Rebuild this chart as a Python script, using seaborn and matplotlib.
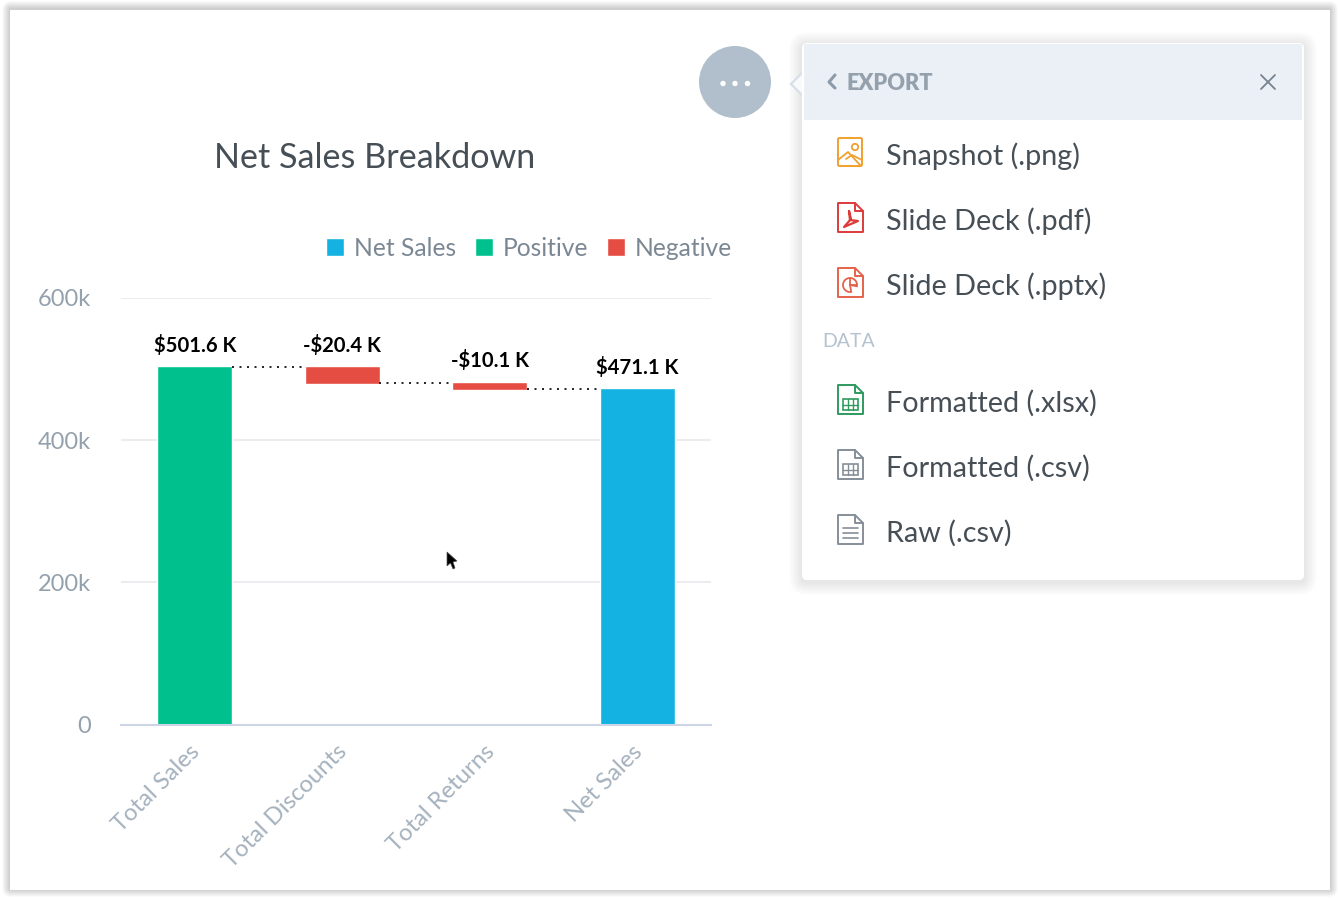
import pandas as pd
import matplotlib
matplotlib.use("Agg")
import matplotlib.pyplot as plt
import seaborn as sns
from matplotlib.patches import FancyBboxPatch, Rectangle, Circle, Polygon, Wedge
from matplotlib.transforms import ScaledTranslation

categorias = ['Total Sales', 'Total Discounts', 'Total Returns', 'Net Sales']
topos = [504.0, 504.0, 482.0, 473.5]
bases = [0, 479.0, 470.5, 0]
niveis_conector = [503.0, 480.5, 472.5]
tipos = ['Positive', 'Negative', 'Negative', 'Net Sales']
rotulos = ['$501.6 K', '-$20.4 K', '-$10.1 K', '$471.1 K']
ordem_legenda = ['Net Sales', 'Positive', 'Negative']
cores = {'Net Sales': '#14b2e2', 'Positive': '#00c18d', 'Negative': '#e54d42'}
ticks_y = [0, 200, 400, 600]
labels_y = ['0', '200k', '400k', '600k']

itens_png = ['Snapshot (.png)', 'Slide Deck (.pdf)', 'Slide Deck (.pptx)']
itens_dados = ['Formatted (.xlsx)', 'Formatted (.csv)', 'Raw (.csv)']

COR_TEXTO = '#464e56'
COR_EIXO = '#94a1ad'
W, H = 1340, 900

sns.set_style("white")
plt.rcParams['font.family'] = ['Lato', 'DejaVu Sans']

fig = plt.figure(figsize=(W / 100, H / 100), dpi=100, facecolor='white')

# camada de fundo em pixels (janela, menu, ícones)
bg = fig.add_axes([0, 0, 1, 1], zorder=0)
bg.set_xlim(0, W)
bg.set_ylim(H, 0)
bg.axis('off')


def sombra(a, x, y, w, h, r, n=8, passo=1.5, alfa=0.018, dy=1):
    for i in range(n, 0, -1):
        e = i * passo
        a.add_patch(FancyBboxPatch((x - e, y - e + dy), w + 2 * e, h + 2 * e,
                                   boxstyle=f'round,pad=0,rounding_size={r + e}',
                                   fc='black', ec='none', alpha=alfa))


# janela
sombra(bg, 10, 10, 1320, 880, 1, n=7, passo=1.1, alfa=0.028, dy=-1)
bg.add_patch(Rectangle((10, 10), 1320, 880, fc='white', ec='none'))

# gráfico
ax = fig.add_axes([121 / W, 1 - 724.5 / H, 590 / W, 426.5 / H], zorder=1)
ax.patch.set_alpha(0)

alturas = [t - b for t, b in zip(topos, bases)]
dados = pd.DataFrame({'categoria': categorias, 'altura': alturas, 'tipo': tipos})

sns.barplot(data=dados, x='categoria', y='altura', hue='tipo', hue_order=ordem_legenda,
            palette=cores, order=categorias, width=0.506, dodge=False, saturation=1, ax=ax)

# barras flutuantes: desloca a base de cada barra
for p in ax.patches:
    idx = int(round(p.get_x() + p.get_width() / 2))
    p.set_y(bases[idx])

ax.set_xlim(-0.5, 3.5)
ax.set_ylim(0, 600)
ax.set_xlabel('')
ax.set_ylabel('')
ax.set_yticks(ticks_y, labels_y)
ax.set_xticks(range(4), categorias)
ax.grid(axis='y', color='#e6e9ee', lw=1.2)
ax.set_axisbelow(True)
sns.despine(ax=ax, left=True, top=True, right=True)
ax.spines['bottom'].set_color('#ccd4e6')
ax.spines['bottom'].set_linewidth(1.5)
ax.tick_params(axis='y', length=0, pad=21.5, labelsize=17, labelcolor=COR_EIXO)
ax.tick_params(axis='x', length=0, pad=12, labelsize=17.2, labelcolor='#a5b2be')
desloca = ScaledTranslation(-6 / 100, 0, fig.dpi_scale_trans)
for t in ax.get_xticklabels():
    t.set_rotation(45)
    t.set_ha('right')
    t.set_rotation_mode('anchor')
    t.set_transform(t.get_transform() + desloca)

# conectores pontilhados
for i, nivel in enumerate(niveis_conector):
    ax.plot([i + 0.25, i + 0.75], [nivel, nivel], color='#2a2a2a', lw=1.44,
            dashes=(1, 2.75), zorder=1)

# rótulos
for i, (topo, r) in enumerate(zip(topos, rotulos)):
    ax.annotate(r, (i, topo), xytext=(0, 7.5), textcoords='offset points', ha='center', va='bottom',
                fontsize=14.6, fontweight='bold', color='black')

sns.move_legend(ax, 'lower right', bbox_to_anchor=(1.0355, 1.09), ncol=3, frameon=False, title=None,
                fontsize=17.7, handlelength=0.73, handleheight=0.73, handletextpad=0.41,
                columnspacing=0.75, labelcolor='#7b8894', borderpad=0, borderaxespad=0)

fig.text(375 / W, 1 - 157.5 / H, 'Net Sales Breakdown', fontsize=24.6, color=COR_TEXTO,
         ha='center', va='center')

# cursor
bg.add_patch(Polygon([(447, 552), (447, 566), (450.5, 563), (453, 569), (455, 568), (453, 562), (457, 561)],
                     fc='black', ec='#555555', lw=0.5, zorder=5))

# camada do menu
fg = fig.add_axes([0, 0, 1, 1], zorder=2)
fg.set_xlim(0, W)
fg.set_ylim(H, 0)
fg.axis('off')
fg.patch.set_alpha(0)

# botão redondo
fg.add_patch(Circle((735, 82), 36, fc='#b0bfcb', ec='none'))
for x in (723, 735, 747.5):
    fg.add_patch(Circle((x, 83.5), 2.7, fc='white', ec='none'))

# painel
sombra(fg, 802, 43, 502, 537, 5, n=8, passo=1.6, alfa=0.010, dy=2)
fg.add_patch(Polygon([(806, 69), (791, 84), (806, 99)], fc='#f8f9fb', ec='#d8dfe7', lw=1.6, joinstyle='miter'))
fg.add_patch(FancyBboxPatch((802, 43), 502, 537, boxstyle='round,pad=0,rounding_size=5', fc='white', ec='none'))
fg.add_patch(Rectangle((804, 44), 498, 76, fc='#ebeff6', ec='none'))
fg.plot([835, 829, 835], [75, 82, 88], color='#8d9aa7', lw=2.2, solid_capstyle='round')
fg.text(847, 84, 'EXPORT', fontsize=15.7, fontweight='heavy', color='#94a1ad', va='center')
fg.plot([1261, 1275], [75, 89], color='#77838f', lw=1.3)
fg.plot([1261, 1275], [89, 75], color='#77838f', lw=1.3)


def folha(x, y, cor, w=25, h=30):
    # folha com canto dobrado
    pts = [(x, y + 1), (x + w - 8, y + 1), (x + w, y + 9), (x + w, y + h), (x, y + h)]
    fg.add_patch(Polygon(pts, closed=True, fc='white', ec=cor, lw=1.4, joinstyle='round'))
    fg.plot([x + w - 8, x + w - 8, x + w], [y + 1, y + 9, y + 9], color=cor, lw=1.4)


def grade(x, y, cor):
    fg.add_patch(Rectangle((x, y), 15, 11, fc='none', ec=cor, lw=1.2))
    for dx in (5, 10):
        fg.plot([x + dx, x + dx], [y, y + 11], color=cor, lw=1)
    fg.plot([x, x + 15], [y + 5.5, y + 5.5], color=cor, lw=1)


# ícone imagem
cor = '#f0a030'
fg.add_patch(FancyBboxPatch((838, 138), 24, 28, boxstyle='round,pad=0,rounding_size=1.5', fc='white', ec=cor, lw=1.4))
fg.add_patch(Circle((855, 147), 3.2, fc='white', ec=cor, lw=1.3))
fg.plot([838, 848, 861], [160, 152, 166], color=cor, lw=1.3)
fg.plot([846, 852, 862], [159, 155, 160], color=cor, lw=1.3)

# ícone pdf
cor = '#de3a3a'
folha(838, 202, cor)
fg.plot([849, 851, 844, 858, 850, 849], [211, 219, 227, 221, 220, 211], color=cor, lw=1.6)

# ícone pptx
cor = '#e4634a'
folha(838, 267, cor)
fg.add_patch(Wedge((850, 285), 7, 80, 370, fc='none', ec=cor, lw=1.3))
fg.plot([850, 850, 857], [278, 285, 285], color=cor, lw=1.3)

# ícones planilha
folha(838, 384, '#2f9a5f')
grade(843, 399, '#2f9a5f')
folha(838, 449, '#868f98')
grade(843, 464, '#868f98')
folha(838, 514, '#868f98')
for y in (528, 533, 538):
    fg.plot([843, 858], [y, y], color='#868f98', lw=1.2)

for y, t in zip([156, 221, 286], itens_png):
    fg.text(886, y, t, fontsize=20.7, color=COR_TEXTO, va='center')
fg.text(822.5, 341.5, 'DATA', fontsize=14, color='#b5c2cf', va='center')
for y, t in zip([403, 468, 533], itens_dados):
    fg.text(886, y, t, fontsize=20.7, color=COR_TEXTO, va='center')

fig.savefig('out.png', dpi=100)
